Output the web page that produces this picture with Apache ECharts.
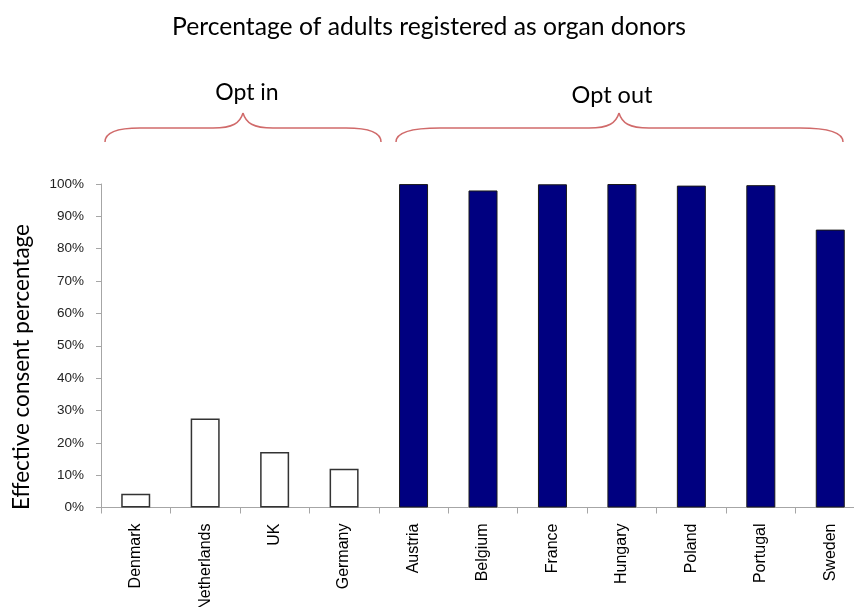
<!DOCTYPE html>
<html>
<head>
<meta charset="utf-8">
<script src="https://cdn.jsdelivr.net/npm/echarts@6/dist/echarts.min.js"></script>
<style>html,body{margin:0;padding:0;background:#fff;}#chart{width:854px;height:607px;}</style>
</head>
<body>
<div id="chart"></div>
<script>
var optInCountries = ['Denmark', 'Netherlands', 'UK', 'Germany'];
var optInValues = [4.25, 27.5, 17.17, 12];
var optOutCountries = ['Austria', 'Belgium', 'France', 'Hungary', 'Poland', 'Portugal', 'Sweden'];
var optOutValues = [99.98, 98, 99.91, 99.997, 99.5, 99.64, 85.9];
var yTicks = [0, 10, 20, 30, 40, 50, 60, 70, 80, 90, 100];

var categories = optInCountries.concat(optOutCountries);
var optInData = optInValues.concat(optOutCountries.map(function () { return '-'; }));
var optOutData = optInCountries.map(function () { return '-'; }).concat(optOutValues);

var chart = echarts.init(document.getElementById('chart'), null, {renderer: 'canvas'});
var calib = 'Lato, "Open Sans", sans-serif';
var arial = '"Liberation Sans", Arial, sans-serif';
var braceColor = '#d06a6a';

function brace(x0, x1, xt, yEnd, yMid, yTip, flatL, flatR) {
  var st = {fill: null, stroke: braceColor, lineWidth: 1.5};
  return [
    {type: 'bezierCurve', shape: {x1: x0, y1: yEnd, cpx1: x0, cpy1: yMid + 5, cpx2: x0 + (flatL - x0) * 0.3, cpy2: yMid, x2: flatL, y2: yMid}, style: st},
    {type: 'line', shape: {x1: flatL, y1: yMid, x2: xt - 30, y2: yMid}, style: st},
    {type: 'bezierCurve', shape: {x1: xt - 30, y1: yMid, cpx1: xt - 10, cpy1: yMid, cpx2: xt - 3, cpy2: yMid - 5, x2: xt, y2: yTip}, style: st},
    {type: 'bezierCurve', shape: {x1: xt, y1: yTip, cpx1: xt + 3, cpy1: yMid - 5, cpx2: xt + 10, cpy2: yMid, x2: xt + 30, y2: yMid}, style: st},
    {type: 'line', shape: {x1: xt + 30, y1: yMid, x2: flatR, y2: yMid}, style: st},
    {type: 'bezierCurve', shape: {x1: flatR, y1: yMid, cpx1: flatR + (x1 - flatR) * 0.7, cpy1: yMid, cpx2: x1, cpy2: yMid + 5, x2: x1, y2: yEnd}, style: st}
  ];
}

var graphics = [
  {type: 'text', x: 429, y: 27, style: {text: 'Percentage of adults registered as organ donors', fontFamily: calib, fontSize: 24.7, fill: '#000', textAlign: 'center', textVerticalAlign: 'middle'}},
  {type: 'text', x: 247, y: 93, style: {text: 'Opt in', fontFamily: calib, fontSize: 23, fill: '#000', textAlign: 'center', textVerticalAlign: 'middle'}},
  {type: 'text', x: 612, y: 95, style: {text: 'Opt out', fontFamily: calib, fontSize: 23.5, fill: '#000', textAlign: 'center', textVerticalAlign: 'middle'}},
  {type: 'text', x: 22, y: 367, rotation: Math.PI / 2, style: {text: 'Effective consent percentage', fontFamily: calib, fontSize: 22.5, fill: '#000', textAlign: 'center', textVerticalAlign: 'middle'}}
].concat(brace(105, 381, 243, 142, 128, 113, 140, 346))
 .concat(brace(396, 843, 619, 142, 128, 113, 440, 800));

chart.setOption({
  animation: false,
  backgroundColor: '#fff',
  grid: {left: 101, top: 184, width: 764, height: 323.5, containLabel: false, outerBoundsMode: 'none'},
  xAxis: {
    type: 'category',
    data: categories,
    axisLine: {lineStyle: {color: '#a6a6a6', width: 1}},
    axisTick: {show: true, length: 6, lineStyle: {color: '#a6a6a6'}},
    axisLabel: {rotate: 90, margin: 16, fontFamily: arial, fontSize: 16, color: '#000'}
  },
  yAxis: {
    type: 'value',
    min: yTicks[0],
    max: yTicks[yTicks.length - 1],
    interval: 10,
    axisLine: {show: true, lineStyle: {color: '#a6a6a6', width: 1}},
    axisTick: {show: true, length: 5, lineStyle: {color: '#a6a6a6'}},
    splitLine: {show: false},
    axisLabel: {margin: 17, fontFamily: arial, fontSize: 13.5, color: '#222', formatter: '{value}%'}
  },
  series: [
    {
      type: 'bar', data: optInData, barWidth: 29, barGap: '-100%',
      itemStyle: {color: '#fff', borderColor: '#333', borderWidth: 1.5}
    },
    {
      type: 'bar', data: optOutData, barWidth: 29, barGap: '-100%',
      itemStyle: {color: '#000080', borderColor: '#1a1a1a', borderWidth: 1}
    }
  ],
  graphic: graphics
});
</script>
</body>
</html>
